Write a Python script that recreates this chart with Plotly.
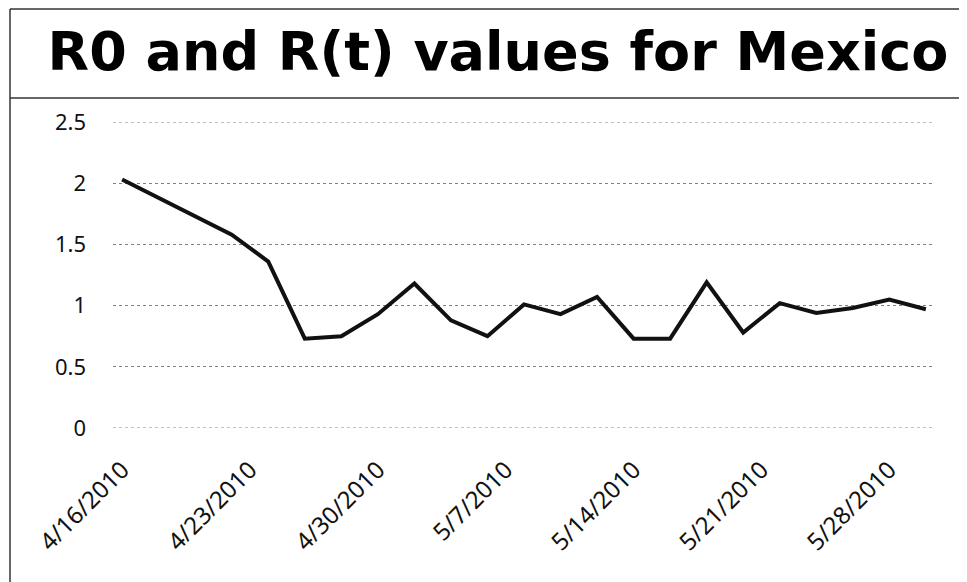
import plotly.graph_objects as go

# Datos (cada 2 días)
fechas = ["2010-04-16", "2010-04-18", "2010-04-20", "2010-04-22", "2010-04-24",
          "2010-04-26", "2010-04-28", "2010-04-30", "2010-05-02", "2010-05-04",
          "2010-05-06", "2010-05-08", "2010-05-10", "2010-05-12", "2010-05-14",
          "2010-05-16", "2010-05-18", "2010-05-20", "2010-05-22", "2010-05-24",
          "2010-05-26", "2010-05-28", "2010-05-30"]
valores_r = [2.03, 1.88, 1.73, 1.58, 1.36,
             0.73, 0.75, 0.93, 1.18, 0.88,
             0.75, 1.01, 0.93, 1.07, 0.73,
             0.73, 1.19, 0.78, 1.02, 0.94,
             0.98, 1.05, 0.97]
ticks_y = [0, 0.5, 1, 1.5, 2, 2.5]
titulo = "R0 and R(t) values for Mexico"

W, H = 967, 582
OFF = 8  # margen del body de la página
izq, der, arriba, abajo = 113 - OFF, 935 - OFF, 122 - OFF, 428 - OFF

def px_x(p):
    return (p - OFF - izq) / (der - izq)

def px_y(p):
    return (abajo - (p - OFF)) / (abajo - arriba)

fig = go.Figure()

# Líneas de la cuadrícula en los extremos (plotly no las dibuja en el borde)
estilo_grid = dict(color="#808080", width=1, dash="dot")
for v in (ticks_y[0], ticks_y[-1]):
    fig.add_shape(type="line", xref="paper", yref="y", x0=0, x1=1, y0=v, y1=v,
                  line=estilo_grid, layer="below")

fig.add_trace(go.Scatter(
    x=fechas, y=valores_r, mode="lines",
    line=dict(color="#111111", width=4),
    showlegend=False,
))

# Marco del título y borde izquierdo
borde = dict(color="#333333", width=1.5)
fig.add_shape(type="line", xref="paper", yref="paper",
              x0=px_x(10), x1=px_x(W + 20), y0=px_y(9), y1=px_y(9), line=borde)
fig.add_shape(type="line", xref="paper", yref="paper",
              x0=px_x(10), x1=px_x(W + 20), y0=px_y(98), y1=px_y(98), line=borde)
fig.add_shape(type="line", xref="paper", yref="paper",
              x0=px_x(10), x1=px_x(10), y0=px_y(9), y1=px_y(H + 20), line=borde)

fig.update_layout(
    width=W, height=H,
    margin=dict(l=izq, r=W - der, t=arriba, b=H - abajo),
    paper_bgcolor="white", plot_bgcolor="white",
    title=dict(text=titulo, xref="container", yref="container",
               x=(498 - OFF) / W, y=1 - (51 - OFF) / H, xanchor="center", yanchor="middle",
               font=dict(family="DejaVu Sans", size=54, color="#000000", weight="bold")),
    font=dict(family="Noto Sans", color="#111111"),
)

fig.update_xaxes(
    type="date",
    range=["2010-04-15 12:00", "2010-05-30 12:00"],
    tick0="2010-04-16", dtick=7 * 86400000,
    tickformat="%-m/%-d/%Y", tickangle=-45,
    tickfont=dict(size=24, family="Noto Sans"),
    showgrid=False, showline=False, zeroline=False,
    ticks="", ticklabelstandoff=22,
)
fig.update_yaxes(
    range=[0, 2.5], tickvals=ticks_y,
    ticktext=[f"{v:g}" for v in ticks_y],
    tickfont=dict(size=22, family="Noto Sans"),
    showgrid=True, gridcolor="#808080", gridwidth=1, griddash="dot",
    zeroline=False, showline=False, ticks="", ticklabelstandoff=26,
)

fig.write_html("out.html")
